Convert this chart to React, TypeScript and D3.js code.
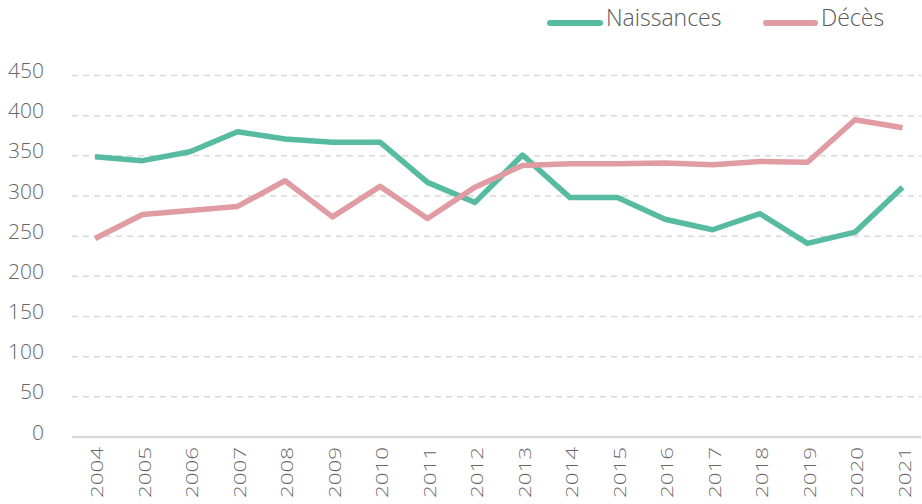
import React from "react";
import * as d3 from "d3";

const years = ["2004","2005","2006","2007","2008","2009","2010","2011","2012","2013","2014","2015","2016","2017","2018","2019","2020","2021"];
const naissances = [349, 344, 355, 380, 371, 367, 367, 317, 292, 351, 298, 298, 271, 258, 278, 241, 255, 311];
const deces = [247, 277, 282, 287, 319, 274, 312, 272, 311, 338, 340, 340, 341, 339, 343, 342, 395, 385];
const yTicks = [0, 50, 100, 150, 200, 250, 300, 350, 400, 450];
const seriesNames = ["Naissances", "Décès"];

const W = 922, H = 504;
const FONT = "'Open Sans', 'Noto Sans', sans-serif";
const GREEN = "#56BBA1";
const PINK = "#E09CA2";

export default function App() {
  const x = d3.scalePoint<string>().domain(years).range([95, 902.5]);
  const y = d3.scaleLinear().domain([0, 450]).range([437, 75.5]);
  const line = d3.line<number>().x((_, i) => x(years[i])!).y((d) => y(d));
  const series = [
    { name: seriesNames[0], values: naissances, color: GREEN },
    { name: seriesNames[1], values: deces, color: PINK },
  ];
  const legendPos = [
    { x1: 550, x2: 600, tx: 606 },
    { x1: 766, x2: 815, tx: 821 },
  ];
  return (
    <svg width={W} height={H} style={{ position: "absolute", left: 0, top: 0 }}>
      <rect width={W} height={H} fill="#fff" />
      {yTicks.filter((t) => t > 0).map((t) => (
        <line key={t} x1={72} x2={921} y1={y(t)} y2={y(t)} stroke="#d9d9d9" strokeWidth={1.5} strokeDasharray="6,5" />
      ))}
      <line x1={72} x2={921} y1={y(0)} y2={y(0)} stroke="#d9d9d9" strokeWidth={2.5} />
      {yTicks.map((t) => (
        <text key={t} x={44} y={y(t) + 2.5} textAnchor="end" fontFamily={FONT} fontSize={21} fill="#666" fontWeight={300}>
          {t}
        </text>
      ))}
      {years.map((yr) => (
        <text key={yr} transform={`translate(${x(yr)! + 8},447) rotate(-90) scale(1.4,1)`} textAnchor="end" fontFamily={FONT} fontSize={16} fill="#666" fontWeight={300}>
          {yr}
        </text>
      ))}
      {series.map((s) => (
        <path key={s.name} d={line(s.values)!} fill="none" stroke={s.color} strokeWidth={5.5} strokeLinejoin="round" />
      ))}
      {series.map((s, i) => (
        <g key={s.name}>
          <line x1={legendPos[i].x1} x2={legendPos[i].x2} y1={23} y2={23} stroke={s.color} strokeWidth={6} strokeLinecap="round" />
          <text x={legendPos[i].tx} y={26} fontFamily={FONT} fontSize={23} fill="#595959" fontWeight={300}>
            {s.name}
          </text>
        </g>
      ))}
    </svg>
  );
}
